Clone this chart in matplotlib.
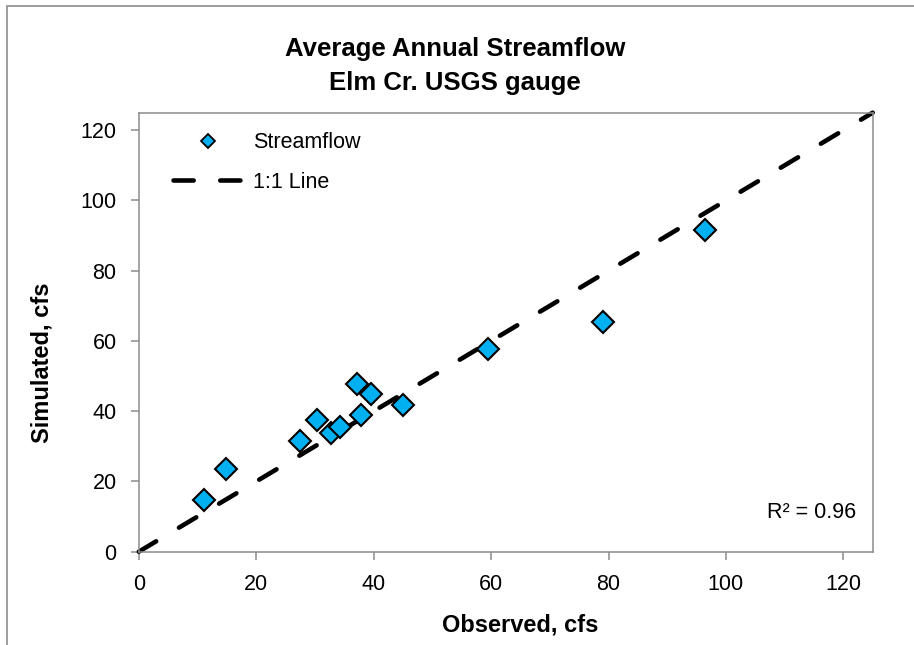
import matplotlib
matplotlib.use('Agg')
import matplotlib.pyplot as plt
from matplotlib.lines import Line2D
from matplotlib.patches import Rectangle

# observed vs simulated average annual streamflow (cfs)
observed = [11.1, 14.8, 27.4, 30.3, 32.8, 34.2, 37.2, 37.9, 39.6, 45.0, 59.5, 79.0, 96.4]
simulated = [14.7, 23.4, 31.4, 37.4, 33.8, 35.5, 47.8, 38.8, 45.0, 41.9, 57.6, 65.5, 91.5]
one_to_one = [0, 125]
ticks = [0, 20, 40, 60, 80, 100, 120]
r2_text = 'R² = 0.96'

plt.rcParams['font.family'] = ['Liberation Sans', 'DejaVu Sans']

fig = plt.figure(figsize=(9.14, 6.45), dpi=100)
ax = fig.add_axes([0.1519, 0.1447, 0.8029, 0.6806])

# outer chart border (only top/left visible in the reference)
fig.patches.append(Rectangle((7 / 914, -0.1), 1.2, 1.1 - 6 / 645, transform=fig.transFigure,
                             fill=False, edgecolor='#8c8c8c', lw=1.2))

ax.plot(one_to_one, one_to_one, color='black', lw=3.3, dashes=(4.4, 5.8),
        dash_capstyle='round', clip_on=False, zorder=2, label='1:1 Line')
ax.plot(observed, simulated, linestyle='none', marker='D', markersize=11,
        markerfacecolor='#00B0F0', markeredgecolor='black', markeredgewidth=1.5,
        zorder=3, label='Streamflow')

ax.set_xlim(0, 125)
ax.set_ylim(0, 125)
ax.set_xticks(ticks)
ax.set_yticks(ticks)
for s in ax.spines.values():
    s.set_color('#8c8c8c')
    s.set_linewidth(1.1)
ax.tick_params(direction='out', length=6, width=1.1, color='#8c8c8c',
               labelsize=15.5, pad=10)

ax.set_xlabel('Observed, cfs', fontsize=17, fontweight='bold')
ax.set_ylabel('Simulated, cfs', fontsize=17, fontweight='bold')
ax.xaxis.set_label_coords(0.519, -0.167)
ax.yaxis.set_label_coords(-0.132, 0.43)
ax.xaxis.label.set_va('center')
ax.yaxis.label.set_va('center')

fig.text(0.4975, 0.898, 'Average Annual Streamflow\nElm Cr. USGS gauge',
         ha='center', va='center', fontsize=18.5, fontweight='bold', linespacing=1.5)

ax.text(0.977, 0.09, r2_text, transform=ax.transAxes, ha='right', va='center', fontsize=15.5)

handles = [Line2D([], [], linestyle='none', marker='D', markersize=7.5,
                  markerfacecolor='#00B0F0', markeredgecolor='black', markeredgewidth=1.3),
           Line2D([], [], color='black', lw=3.3, dashes=(4.4, 5.8), dash_capstyle='round')]
ax.legend(handles, ['Streamflow', '1:1 Line'], loc='upper left',
          bbox_to_anchor=(0.046, 0.955), frameon=False, fontsize=15.5,
          handlelength=3.3, handletextpad=0.45, labelspacing=0.85,
          borderpad=0, borderaxespad=0)

fig.savefig('out.png', dpi=100)
